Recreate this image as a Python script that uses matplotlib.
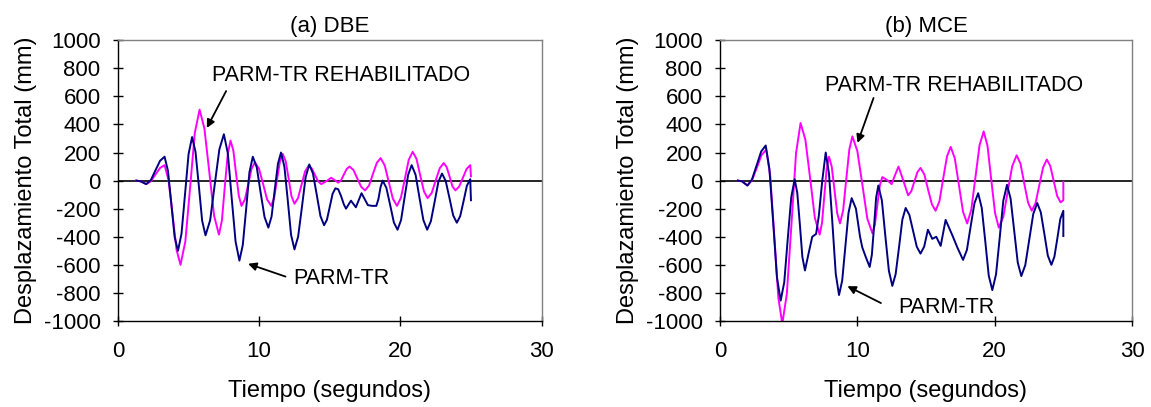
import matplotlib
matplotlib.use("Agg")
import matplotlib.pyplot as plt

plt.rcParams['font.family'] = ['Liberation Sans', 'DejaVu Sans']
plt.rcParams['axes.unicode_minus'] = False

# ---- data: (a) DBE, PARM-TR ----
dbe_base_t = [1.3, 1.6, 2.0, 2.33, 2.65, 2.98, 3.3, 3.54, 3.78, 4.01, 4.25, 4.5, 4.75, 5.0, 5.25,
              5.49, 5.73, 5.96, 6.2, 6.53, 6.85, 7.18, 7.5, 7.78, 8.05, 8.33, 8.6, 8.84, 9.08, 9.31, 9.55,
              9.83, 10.1, 10.38, 10.65, 10.88, 11.1, 11.33, 11.55, 11.79, 12.03, 12.26, 12.5,
              12.76, 13.03, 13.29, 13.55, 13.81, 14.08, 14.34, 14.6, 14.8, 15.0, 15.2, 15.4,
              15.6, 15.8, 16.0, 16.15, 16.5, 16.85, 17.25, 17.7, 18.0, 18.3, 18.45, 18.6, 18.75,
              19.01, 19.28, 19.54, 19.8, 20.05, 20.3, 20.55, 20.8, 21.08, 21.35, 21.63, 21.9,
              22.16, 22.43, 22.69, 22.95, 23.21, 23.48, 23.74, 24.0, 24.24, 24.48, 24.71, 24.95, 25.0]
dbe_base_v = [0, -5, -25, 4, 72, 141, 170, 70, -165, -400, -500, -378, -95, 189, 310,
              205, -40, -285, -390, -282, -30, 222, 330, 195, -120, -435, -570, -459, -200, 59, 170,
              94, -83, -259, -335, -255, -68, 120, 200, 97, -145, -387, -490,
              -399, -188, 24, 115, 50, -102, -253, -318, -279, -187, -94, -55,
              -62, -110, -170, -200, -143, -190, -90, -175, -180, -180, -130, -45, 0,
              -52, -175, -298, -350, -281, -120, 41, 110, 41, -120, -281, -350,
              -290, -150, -10, 50, -2, -125, -248, -300, -253, -145, -37, 10, -140]

# ---- data: (a) DBE, PARM-TR REHABILITADO ----
dbe_reh_t = [1.3, 1.6, 2.0, 2.33, 2.65, 2.98, 3.3, 3.58, 3.87, 4.15, 4.43, 4.77, 5.11, 5.44, 5.78,
             6.12, 6.47, 6.81, 7.15, 7.36, 7.56, 7.77, 7.97, 8.17, 8.36, 8.56, 8.75, 8.99, 9.23, 9.46, 9.7,
             9.99, 10.28, 10.56, 10.85, 11.06, 11.26, 11.47, 11.67, 11.88, 12.09, 12.29, 12.5,
             12.75, 13.0, 13.25, 13.5, 13.73, 13.95, 14.18, 14.4, 14.75, 15.1, 15.4, 15.6,
             15.8, 16.0, 16.2, 16.4, 16.68, 16.95, 17.23, 17.5, 17.78, 18.05, 18.33, 18.6,
             18.89, 19.18, 19.47, 19.76, 20.04, 20.32, 20.59, 20.87, 21.14, 21.4, 21.67, 21.93,
             22.22, 22.5, 22.79, 23.07, 23.28, 23.49, 23.69, 23.9, 24.16, 24.43, 24.69, 24.95, 25.0]
dbe_reh_v = [0, -5, -25, -5, 43, 90, 110, 3, -245, -494, -600, -434, -48, 339, 505,
             372, 60, -251, -385, -285, -50, 185, 285, 215, 53, -110, -180, -134, -25, 84, 130,
             84, -25, -134, -180, -125, 5, 135, 190, 137, 13, -112, -165,
             -125, -30, 65, 105, 86, 40, -6, -25, -5, 20, 0, -15,
             2, 43, 83, 100, 75, 15, -45, -70, -35, 45, 126, 160,
             109, -10, -129, -180, -122, 13, 147, 205, 156, 40, -76, -125,
             -88, 0, 88, 125, 96, 28, -41, -70, -43, 20, 83, 110, 30]

# ---- data: (b) MCE, PARM-TR ----
mce_base_t = [1.3, 1.6, 2.0, 2.33, 2.67, 3.0, 3.33, 3.6, 3.88, 4.15, 4.42, 4.68, 4.93, 5.19, 5.44,
              5.63, 5.82, 6.0, 6.19, 6.45, 6.72, 7.0, 7.2, 7.45, 7.7, 7.94, 8.19, 8.43, 8.67,
              8.9, 9.13, 9.36, 9.59, 9.9, 10.2, 10.36, 10.6, 10.9, 11.06, 11.22, 11.37, 11.53,
              11.79, 12.04, 12.3, 12.55, 12.79, 13.04, 13.28, 13.52, 13.79, 14.06, 14.33, 14.6,
              14.87, 15.14, 15.46, 15.75, 16.07, 16.43, 16.9, 17.3, 17.7, 17.98, 18.25, 18.53, 18.8,
              19.06, 19.32, 19.57, 19.83, 20.1, 20.37, 20.63, 20.9, 21.16, 21.42, 21.68, 21.94,
              22.23, 22.52, 22.81, 23.1, 23.36, 23.62, 23.87, 24.13, 24.35, 24.57, 24.78, 25.0, 25.0]
mce_base_v = [0, -5, -35, 8, 108, 207, 250, 84, -303, -689, -855, -725, -423, -120, 10,
              -88, -315, -543, -640, -520, -400, -380, -250, 0, 200, 48, -308, -663, -815,
              -712, -470, -229, -125, -200, -400, -475, -540, -615, -528, -325, -122, -35,
              -142, -393, -643, -750, -667, -473, -278, -195, -244, -358, -471, -520,
              -470, -350, -415, -400, -465, -280, -385, -480, -565, -494, -328, -161, -90,
              -194, -435, -677, -780, -668, -405, -143, -30, -128, -355, -583, -680,
              -602, -420, -238, -160, -226, -380, -534, -600, -542, -408, -273, -215, -395]

# ---- data: (b) MCE, PARM-TR REHABILITADO ----
mce_reh_t = [1.3, 1.6, 2.0, 2.34, 2.69, 3.03, 3.37, 3.66, 3.96, 4.25, 4.54, 4.87, 5.21, 5.54, 5.87,
             6.22, 6.57, 6.91, 7.26, 7.43, 7.6, 7.77, 7.94, 8.14, 8.34, 8.54, 8.74, 8.97, 9.19, 9.42, 9.64,
             10.0, 10.37, 10.73, 11.1, 11.28, 11.46, 11.64, 11.82, 12.15, 12.5, 12.75, 13.0, 13.35, 13.7,
             13.93, 14.15, 14.38, 14.6, 14.88, 15.15, 15.43, 15.7, 15.98, 16.25, 16.53, 16.8,
             17.1, 17.4, 17.7, 18.0, 18.3, 18.6, 18.9, 19.2, 19.48, 19.75, 20.03, 20.3,
             20.63, 20.95, 21.28, 21.6, 21.88, 22.15, 22.43, 22.7, 22.98, 23.25, 23.53, 23.8,
             24.05, 24.3, 24.55, 24.8, 25.0, 25.0]
mce_reh_v = [0, -5, -35, 3, 93, 182, 220, 34, -400, -834, -1020, -806, -305, 196, 410,
             291, 13, -266, -385, -302, -108, 87, 170, 99, -68, -234, -305, -212, 5, 222, 315,
             212, -30, -271, -375, -315, -175, -35, 25, 5, -25, 40, 100, 0, -105,
             -76, -8, 61, 90, 44, -63, -169, -215, -147, 13, 172, 240,
             158, -33, -223, -305, -207, 23, 252, 350, 247, 8, -232, -335,
             -258, -78, 103, 180, 121, -18, -156, -215, -160, -33, 95, 150,
             104, -3, -109, -155, -140, -10]

titles = ['(a) DBE', '(b) MCE']
xlabel = 'Tiempo (segundos)'
ylabel = 'Desplazamiento Total (mm)'
label_reh = 'PARM-TR REHABILITADO'
label_base = 'PARM-TR'
xticks = [0, 10, 20, 30]
yticks = list(range(-1000, 1001, 200))

BLUE = '#000080'
MAGENTA = '#FF00FF'

fig = plt.figure(figsize=(11.51, 4.07), dpi=100)
ax1 = fig.add_axes([0.1025, 0.2113, 0.368, 0.690])
ax2 = fig.add_axes([0.6255, 0.2113, 0.358, 0.690])

panels = [
    (ax1, dbe_base_t, dbe_base_v, dbe_reh_t, dbe_reh_v,
     (6.65, 750), (7.75, 655), (6.2, 357),
     (12.4, -700), (12.05, -690), (9.03, -586)),
    (ax2, mce_base_t, mce_base_v, mce_reh_t, mce_reh_v,
     (7.65, 680), (11.25, 607), (9.95, 250),
     (12.96, -907), (11.9, -881), (9.1, -743)),
]

for i, (ax, bt, bv, rt, rv, rtxt, rstart, rtip, btxt, bstart, btip) in enumerate(panels):
    ax.axhline(0, color='black', lw=1.2, zorder=1)
    ax.plot(rt, rv, color=MAGENTA, lw=1.4, zorder=2)
    ax.plot(bt, bv, color=BLUE, lw=1.4, zorder=3)
    ax.set_xlim(0, 30)
    ax.set_ylim(-1000, 1000)
    ax.set_xticks(xticks)
    ax.set_yticks(yticks)
    ax.tick_params(direction='inout', length=7, width=1, labelsize=16)
    ax.tick_params(axis='y', pad=9)
    ax.tick_params(axis='x', pad=11)
    for s in ['left', 'bottom']:
        ax.spines[s].set_color('black')
        ax.spines[s].set_linewidth(1.0)
    for s in ['top', 'right']:
        ax.spines[s].set_color('#808080')
        ax.spines[s].set_linewidth(1.0)
    ax.set_title(titles[i], fontsize=16, pad=6)
    ax.set_xlabel(xlabel, fontsize=17, labelpad=13)
    ax.set_ylabel(ylabel, fontsize=17, labelpad=5)
    ax.text(rtxt[0], rtxt[1], label_reh, fontsize=15.5, va='center', ha='left')
    ax.annotate('', xy=rtip, xytext=rstart,
                arrowprops=dict(arrowstyle='-|>', color='black', lw=1.3, mutation_scale=12))
    ax.text(btxt[0], btxt[1], label_base, fontsize=15.5, va='center', ha='left')
    ax.annotate('', xy=btip, xytext=bstart,
                arrowprops=dict(arrowstyle='-|>', color='black', lw=1.3, mutation_scale=12))

fig.savefig('out.png', dpi=100)
